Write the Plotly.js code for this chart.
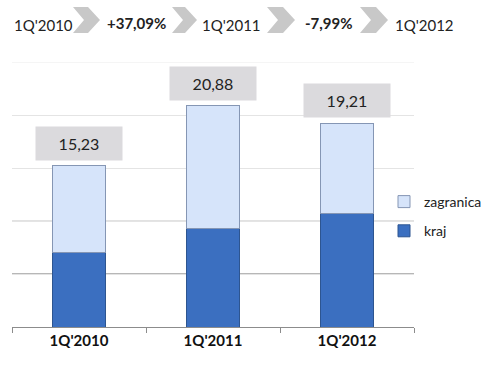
<!DOCTYPE html>
<html>
<head>
<meta charset="utf-8">
<script src="https://cdn.plot.ly/plotly-3.0.1.min.js"></script>
<style>html,body{margin:0;padding:0;background:#fff;}#chart{width:493px;height:365px;}</style>
</head>
<body>
<div id="chart"></div>
<script>
// ---- data ----
var categories = ["1Q'2010", "1Q'2011", "1Q'2012"];
var kraj = [7.0, 9.3, 10.75];
var totals = [15.23, 20.88, 19.21];
var zagranica = totals.map(function (t, i) { return +(t - kraj[i]).toFixed(2); });
var headerLabels = ["1Q'2010", "+37,09%", "1Q'2011", "-7,99%", "1Q'2012"];
var headerBold = [false, true, false, true, false];
var yTicks = [0, 5, 10, 15, 20, 25];

// ---- layout helpers (pixel -> paper) ----
var W = 493, H = 365;
var L = 12, R = 414, T = 62, B = 327;
function px(x) { return (x - L) / (R - L); }
function py(y) { return (B - y) / (B - T); }

var FONT = "Lato, 'Open Sans', sans-serif";

var traces = [
  {
    type: 'bar', name: 'kraj', x: categories, y: kraj,
    width: 0.4, legendgroup: 'k', legendrank: 2,
    marker: { color: '#3b6fc0', line: { color: '#2d5590', width: 1 } },
    hoverinfo: 'none'
  },
  {
    type: 'bar', name: 'zagranica', x: categories, y: zagranica,
    width: 0.4, legendgroup: 'z', legendrank: 1,
    marker: { color: '#d6e4fa', line: { color: '#8596b4', width: 1 } },
    hoverinfo: 'none'
  }
];

var annotations = [];
// value boxes above bars
categories.forEach(function (c, i) {
  annotations.push({
    x: c, y: totals[i], xref: 'x', yref: 'y',
    yanchor: 'bottom', yshift: 5,
    text: totals[i].toFixed(2).replace('.', ','),
    showarrow: false,
    bgcolor: '#dbdadd', width: 86, height: 33, borderpad: 0,
    font: { family: FONT, size: 16, color: '#222222' }
  });
});
// header texts
var headerX = [43, 136, 231, 329, 424];
var headerY = [25, 23, 25, 23, 25];
headerLabels.forEach(function (t, i) {
  annotations.push({
    x: px(headerX[i]), y: py(headerY[i]), xref: 'paper', yref: 'paper',
    xanchor: 'center', yanchor: 'middle', showarrow: false,
    text: headerBold[i] ? '<b>' + t + '</b>' : t,
    font: { family: FONT, size: 15, color: '#222222' }
  });
});

// chevrons (decoration)
function chevron(x0, w, notch) {
  var yt = 7, yb = 33, ym = 20;
  var pts = [[x0, yt], [x0 + w - 12, yt], [x0 + w, ym], [x0 + w - 12, yb], [x0, yb], [x0 + notch, ym]];
  return 'M ' + pts.map(function (p) { return px(p[0]) + ',' + py(p[1]); }).join(' L ') + ' Z';
}
var shapes = [];
[[73, 27], [172, 25], [267, 28], [360, 28]].forEach(function (c) {
  shapes.push({
    type: 'path', xref: 'paper', yref: 'paper', path: chevron(c[0], c[1], 11),
    fillcolor: '#c8c8c8', line: { width: 0 }, layer: 'above'
  });
});
// gridline tones as in reference
shapes.push({ type: 'line', xref: 'paper', yref: 'y', x0: 0, x1: 1, y0: 5, y1: 5,
  line: { color: '#6e6e6e', width: 1 }, layer: 'below' });
shapes.push({ type: 'line', xref: 'paper', yref: 'y', x0: 0, x1: 1, y0: 10, y1: 10,
  line: { color: '#c4c4c4', width: 1 }, layer: 'below' });
shapes.push({ type: 'line', xref: 'paper', yref: 'y', x0: 0, x1: 1, y0: 25, y1: 25,
  line: { color: '#ececec', width: 1 }, layer: 'below' });

var layout = {
  width: W, height: H,
  margin: { l: L, r: W - R, t: T, b: H - B, pad: 0, autoexpand: false },
  paper_bgcolor: '#ffffff', plot_bgcolor: '#ffffff',
  barmode: 'stack',
  showlegend: true,
  legend: {
    xref: 'container', yref: 'container',
    x: 384 / W, y: 1 - 186 / H, xanchor: 'left', yanchor: 'top',
    traceorder: 'grouped', tracegroupgap: 8,
    font: { family: FONT, size: 14, color: '#222222' },
    bgcolor: 'rgba(0,0,0,0)'
  },
  xaxis: {
    type: 'category', showgrid: false, showline: true, linecolor: '#8c8c8c', linewidth: 1,
    ticks: 'outside', tickson: 'boundaries', ticklen: 5, tickcolor: '#8c8c8c',
    tickfont: { family: FONT, size: 15, color: '#111111', weight: 'bold' },
    fixedrange: true
  },
  yaxis: {
    range: [0, 25], tickvals: yTicks, showticklabels: false, showgrid: true,
    gridcolor: '#e4e4e4', zeroline: false, showline: false, fixedrange: true
  },
  annotations: annotations,
  shapes: shapes
};

Plotly.newPlot('chart', traces, layout, { staticPlot: true, displayModeBar: false });
</script>
</body>
</html>
